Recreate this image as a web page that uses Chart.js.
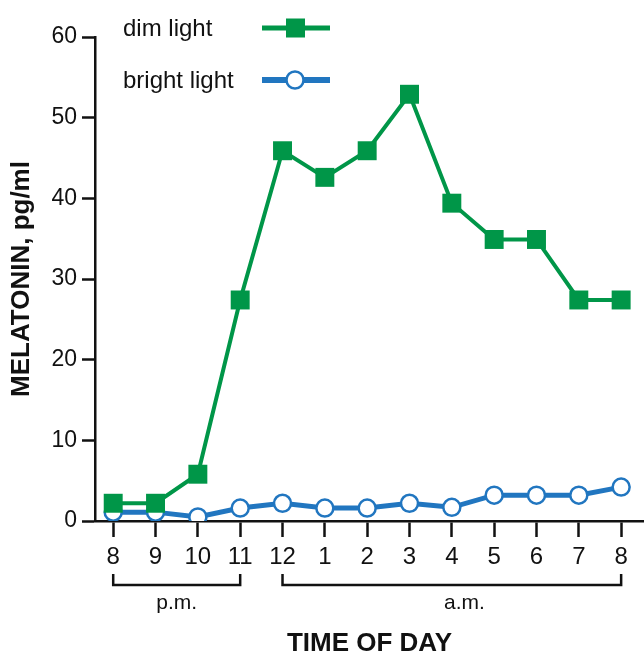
<!DOCTYPE html>
<html>
<head>
<meta charset="utf-8">
<script src="https://cdn.jsdelivr.net/npm/chart.js@4.4.1/dist/chart.umd.min.js"></script>
<style>
  html, body { margin: 0; padding: 0; background: #fff; }
  #wrap { width: 644px; height: 660px; }
</style>
</head>
<body>
<div id="wrap"><canvas id="MelatoninChart" width="644" height="660"></canvas></div>
<script>
// data
const hours = ['8', '9', '10', '11', '12', '1', '2', '3', '4', '5', '6', '7', '8'];
const dimLight = [2.2, 2.2, 5.8, 27.4, 45.9, 42.6, 45.9, 52.9, 39.4, 34.9, 34.9, 27.4, 27.4];
const brightLight = [1.1, 1.1, 0.5, 1.6, 2.2, 1.6, 1.6, 2.2, 1.7, 3.2, 3.2, 3.2, 4.2];
const yTicks = [0, 10, 20, 30, 40, 50, 60];
const periods = [
    { label: 'p.m.', from: 0, to: 3, text: 1.5 },
    { label: 'a.m.', from: 4, to: 12, text: 8.3 }
];

const GREEN = 'rgb(0, 150, 72)';
const BLUE = 'rgb(33, 118, 192)';
const FONT = '"Liberation Sans", Arial, sans-serif';
const NARROW = '"Liberation Sans Narrow", "Liberation Sans", Arial, sans-serif';

const toPoints = (vals) => vals.map((v, i) => ({ x: i, y: v }));

// brackets under the hours + legend in top left
const extras = {
    id: 'extras',
    afterDraw(chart) {
        const ctx = chart.ctx;
        const xs = chart.scales.x;
        ctx.save();
        ctx.strokeStyle = '#111';
        ctx.lineWidth = 2.5;
        ctx.fillStyle = '#111';
        ctx.font = '21px ' + FONT;
        ctx.textAlign = 'center';
        ctx.textBaseline = 'middle';
        periods.forEach(p => {
            const x1 = xs.getPixelForValue(p.from);
            const x2 = xs.getPixelForValue(p.to);
            ctx.beginPath();
            ctx.moveTo(x1, 574);
            ctx.lineTo(x1, 585);
            ctx.lineTo(x2, 585);
            ctx.lineTo(x2, 574);
            ctx.stroke();
            ctx.fillText(p.label, xs.getPixelForValue(p.text), 603);
        });

        // legend
        ctx.font = '24px ' + FONT;
        ctx.textAlign = 'left';
        chart.data.datasets.forEach((ds, i) => {
            const y = 28 + i * 52;
            ctx.fillStyle = '#111';
            ctx.fillText(ds.label, 123, y + 1);
            ctx.strokeStyle = ds.borderColor;
            ctx.lineWidth = ds.borderWidth + 1;
            ctx.beginPath();
            ctx.moveTo(262, y);
            ctx.lineTo(330, y);
            ctx.stroke();
            if (ds.pointStyle === 'rect') {
                ctx.fillStyle = ds.pointBackgroundColor;
                ctx.fillRect(286, y - 9.5, 19, 19);
            } else {
                ctx.fillStyle = '#fff';
                ctx.lineWidth = ds.pointBorderWidth;
                ctx.beginPath();
                ctx.arc(295, y, ds.pointRadius, 0, Math.PI * 2);
                ctx.fill();
                ctx.stroke();
            }
        });
        ctx.restore();
    }
};

new Chart(document.getElementById('MelatoninChart'), {
    type: 'line',
    data: {
        datasets: [{
            label: 'dim light',
            data: toPoints(dimLight),
            borderColor: GREEN,
            borderWidth: 4,
            pointStyle: 'rect',
            pointRadius: 13.4,
            pointBackgroundColor: GREEN,
            pointBorderWidth: 0,
            tension: 0
        }, {
            label: 'bright light',
            data: toPoints(brightLight),
            borderColor: BLUE,
            borderWidth: 5,
            pointStyle: 'circle',
            pointRadius: 8.5,
            pointBackgroundColor: '#fff',
            pointBorderColor: BLUE,
            pointBorderWidth: 2.5,
            tension: 0
        }]
    },
    options: {
        responsive: false,
        animation: false,
        devicePixelRatio: 1,
        layout: {
            autoPadding: false,
            padding: { top: 37, left: 0, right: 0, bottom: 0 }
        },
        plugins: {
            legend: { display: false },
            tooltip: { enabled: false }
        },
        scales: {
            x: {
                type: 'linear',
                min: -0.43,
                max: 12.54,
                afterFit: (scale) => {
                    scale.height = 139;
                    scale.paddingLeft = 0;
                    scale.paddingRight = 0;
                },
                afterBuildTicks: (scale) => {
                    scale.ticks = hours.map((h, i) => ({ value: i }));
                },
                ticks: {
                    autoSkip: false,
                    maxRotation: 0,
                    padding: 6,
                    color: '#111',
                    font: { family: NARROW, size: 24 },
                    callback: (v) => hours[v]
                },
                grid: {
                    drawOnChartArea: false,
                    tickLength: 16,
                    tickWidth: 2.5,
                    tickColor: '#111'
                },
                border: { color: '#111', width: 2.5 },
                title: {
                    display: true,
                    text: 'TIME OF DAY',
                    color: '#111',
                    font: { family: FONT, size: 26, weight: 'bold' },
                    padding: { top: 0, bottom: 1 }
                }
            },
            y: {
                min: 0,
                max: 60,
                afterFit: (scale) => {
                    scale.width = 95;
                    scale.paddingTop = 0;
                    scale.paddingBottom = 0;
                },
                afterBuildTicks: (scale) => {
                    scale.ticks = yTicks.map(v => ({ value: v }));
                },
                ticks: {
                    padding: 5,
                    color: '#111',
                    font: { family: NARROW, size: 23 }
                },
                grid: {
                    drawOnChartArea: false,
                    tickLength: 13,
                    tickWidth: 2.5,
                    tickColor: '#111'
                },
                border: { color: '#111', width: 2.5 },
                title: {
                    display: true,
                    text: 'MELATONIN, pg/ml',
                    color: '#111',
                    font: { family: FONT, size: 26, weight: 'bold' },
                    padding: { top: 6, bottom: 0 }
                }
            }
        }
    },
    plugins: [extras]
});
</script>
</body>
</html>
